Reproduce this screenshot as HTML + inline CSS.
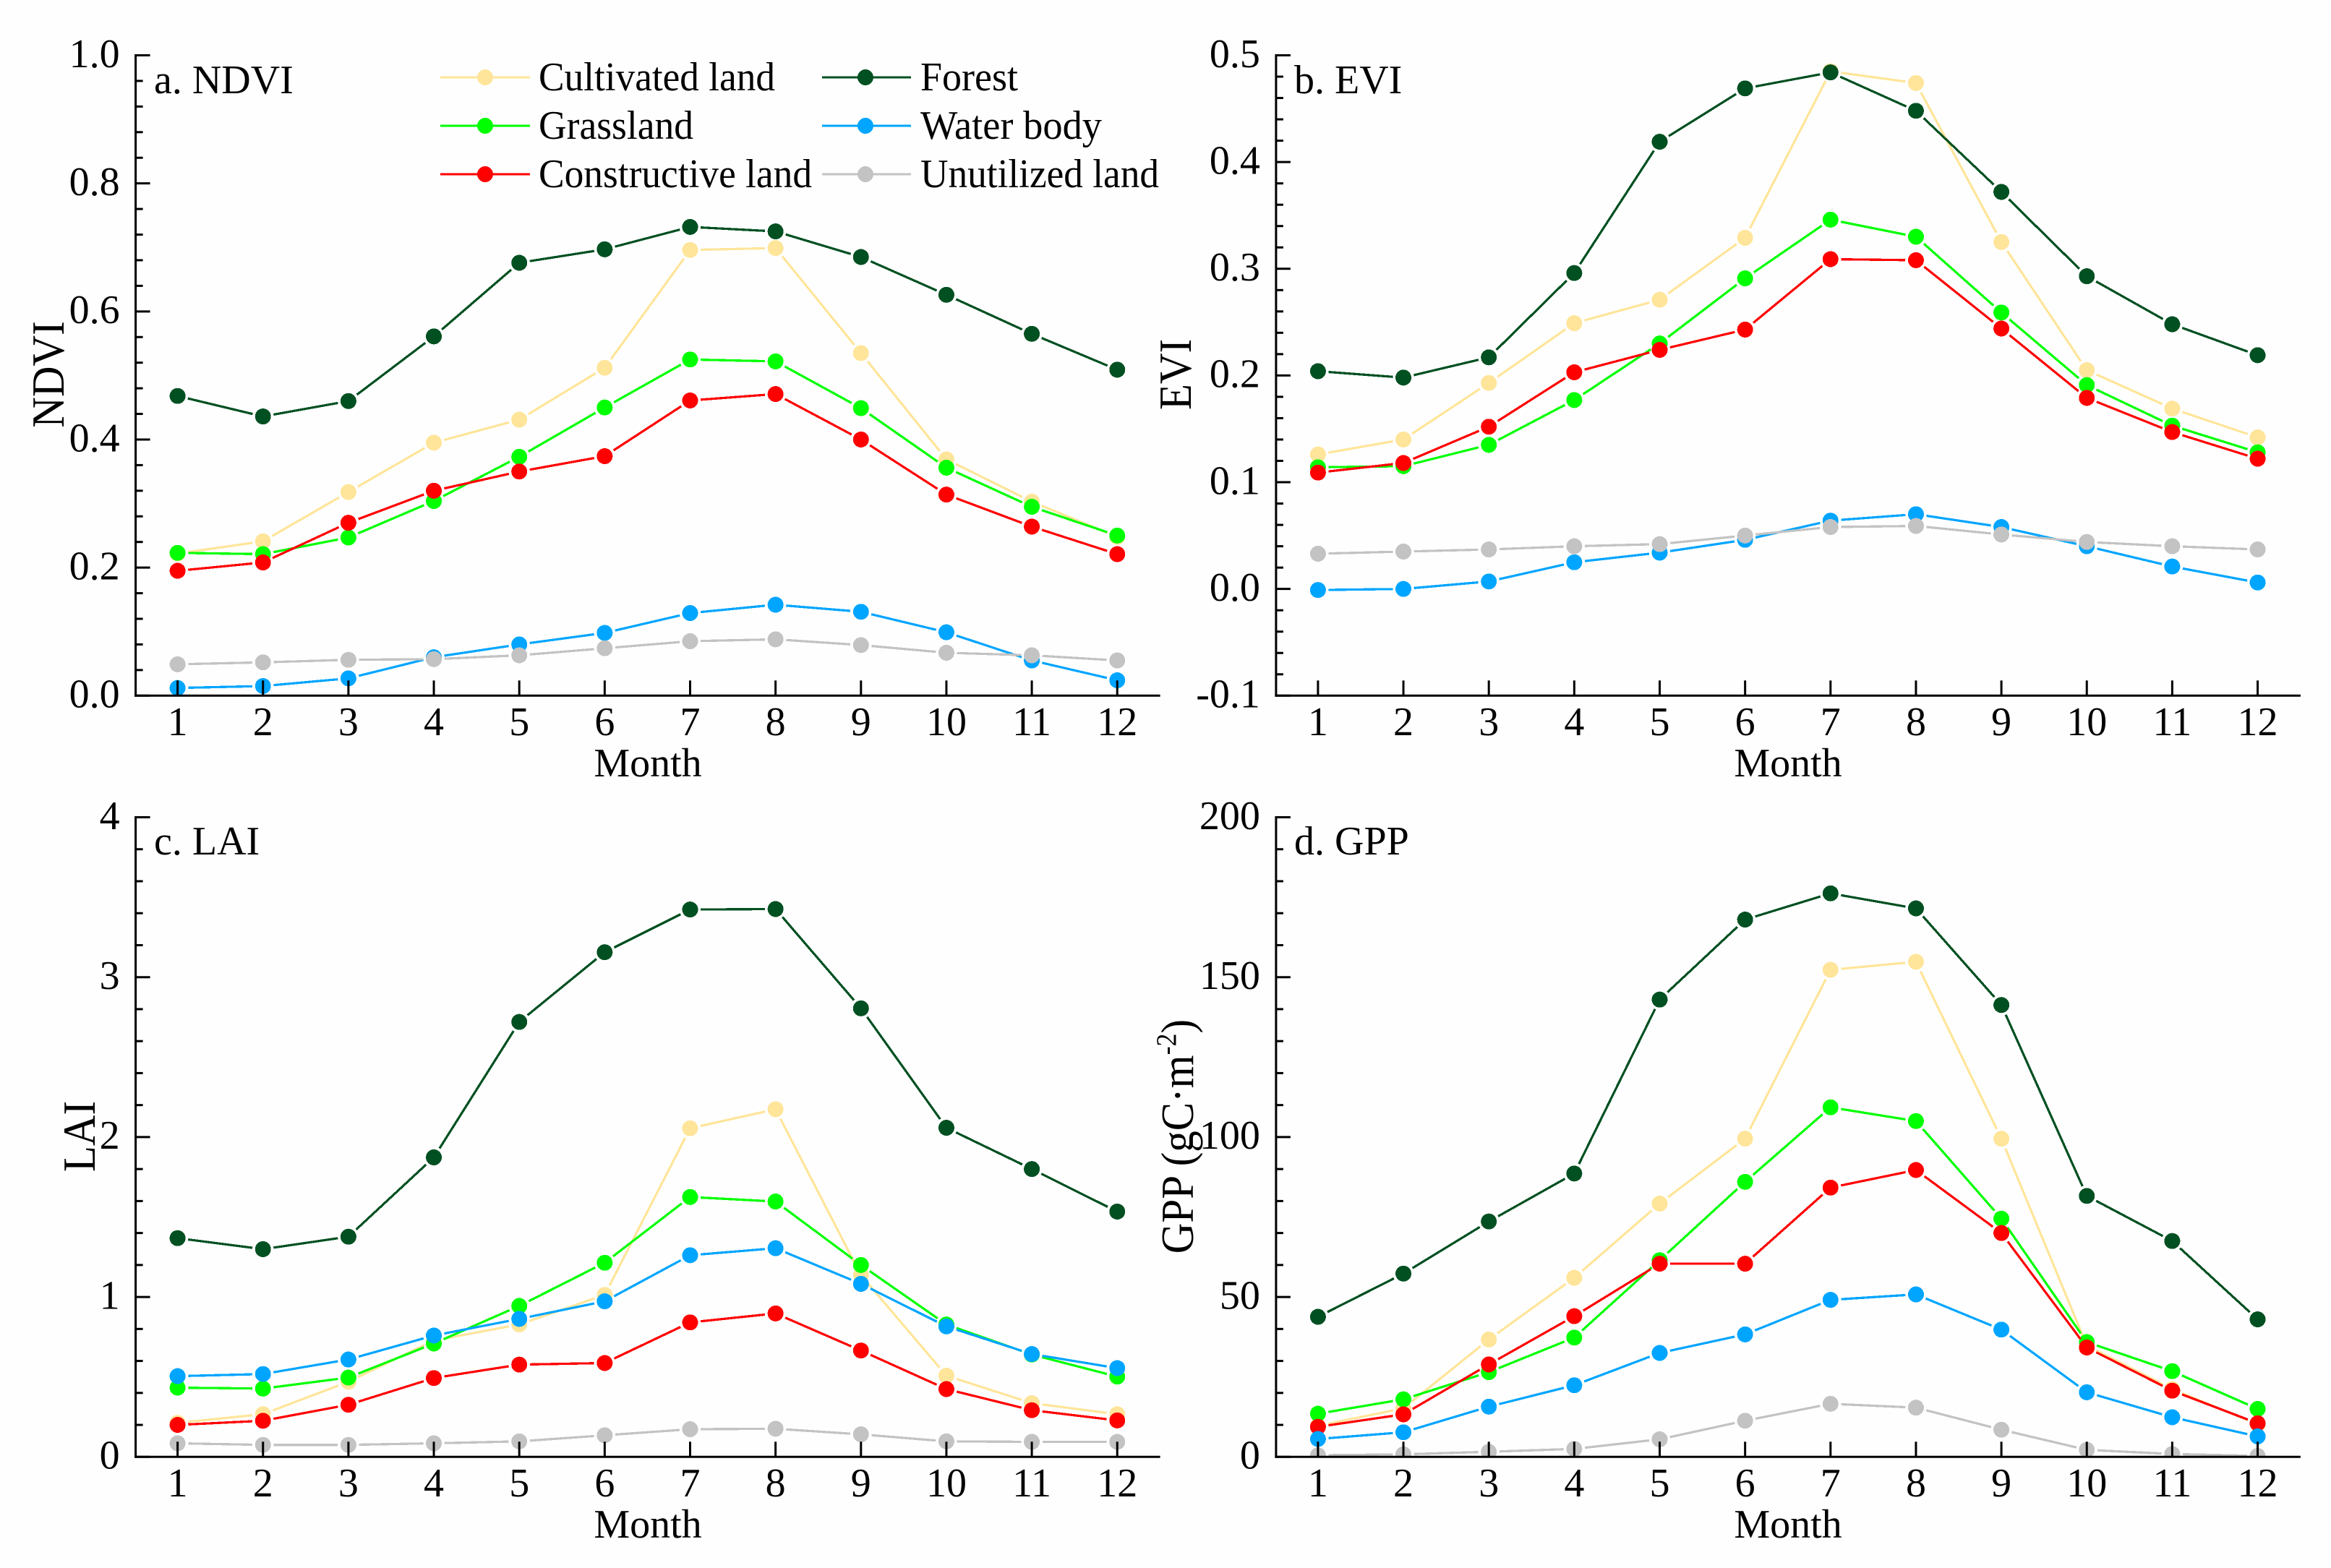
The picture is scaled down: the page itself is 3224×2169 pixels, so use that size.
<!DOCTYPE html>
<html lang="en">
<head>
<meta charset="utf-8">
<title>Monthly vegetation indices by land cover type</title>
<style>
html,body{margin:0;padding:0;background:#fff;}
svg{display:block;}
text{font-family:"Liberation Serif","Times New Roman",serif;font-size:56px;fill:#000;}
</style>
</head>
<body>
<svg id="chart" xmlns="http://www.w3.org/2000/svg" width="3224" height="2169" viewBox="0 0 3224 2169">
  <rect x="0" y="0" width="3224" height="2169" fill="#fefefe"/>
  <g id="panels"></g>

  <g>
    <text x="213" y="129">a. NDVI</text>
    <text x="1790" y="129">b. EVI</text>
    <text x="213" y="1182">c. LAI</text>
    <text x="1790" y="1182">d. GPP</text>
  </g>

  <g>
    <text x="896" y="1074" text-anchor="middle">Month</text>
    <text x="2473" y="1074" text-anchor="middle">Month</text>
    <text x="896" y="2127" text-anchor="middle">Month</text>
    <text x="2473" y="2127" text-anchor="middle">Month</text>
  </g>

  <g>
    <text text-anchor="middle" transform="translate(88 518) rotate(-90) scale(1 1.08)" style="font-size:59px">NDVI</text>
    <text text-anchor="middle" transform="translate(1647 518) rotate(-90) scale(1 1.08)" style="font-size:59px">EVI</text>
    <text text-anchor="middle" transform="translate(131 1572) rotate(-90) scale(1 1.08)" style="font-size:59px">LAI</text>
    <text text-anchor="middle" transform="translate(1650 1572) rotate(-90) scale(1 1.08)" style="font-size:59px">GPP (gC·m<tspan dy="-22" style="font-size:36px">-2</tspan><tspan dy="22">)</tspan></text>
  </g>

  <g>
    <g>
      <line x1="609" y1="107" x2="733" y2="107" stroke="#FFE59A" stroke-width="3" shape-rendering="crispEdges"/>
      <circle cx="671" cy="107" r="11" fill="#FFE59A" shape-rendering="crispEdges"/>
      <text x="745" y="125" textLength="327" lengthAdjust="spacingAndGlyphs">Cultivated land</text>
    </g>
    <g>
      <line x1="609" y1="174" x2="733" y2="174" stroke="#00FF00" stroke-width="3" shape-rendering="crispEdges"/>
      <circle cx="671" cy="174" r="11" fill="#00FF00" shape-rendering="crispEdges"/>
      <text x="745" y="192" textLength="214" lengthAdjust="spacingAndGlyphs">Grassland</text>
    </g>
    <g>
      <line x1="609" y1="241" x2="733" y2="241" stroke="#FF0000" stroke-width="3" shape-rendering="crispEdges"/>
      <circle cx="671" cy="241" r="11" fill="#FF0000" shape-rendering="crispEdges"/>
      <text x="745" y="259" textLength="378" lengthAdjust="spacingAndGlyphs">Constructive land</text>
    </g>
    <g>
      <line x1="1137" y1="107" x2="1260" y2="107" stroke="#005021" stroke-width="3" shape-rendering="crispEdges"/>
      <circle cx="1197" cy="107" r="11" fill="#005021" shape-rendering="crispEdges"/>
      <text x="1273" y="125" textLength="135" lengthAdjust="spacingAndGlyphs">Forest</text>
    </g>
    <g>
      <line x1="1137" y1="174" x2="1260" y2="174" stroke="#00A5FF" stroke-width="3" shape-rendering="crispEdges"/>
      <circle cx="1197" cy="174" r="11" fill="#00A5FF" shape-rendering="crispEdges"/>
      <text x="1273" y="192" textLength="251" lengthAdjust="spacingAndGlyphs">Water body</text>
    </g>
    <g>
      <line x1="1137" y1="241" x2="1260" y2="241" stroke="#C3C3C3" stroke-width="3" shape-rendering="crispEdges"/>
      <circle cx="1197" cy="241" r="11" fill="#C3C3C3" shape-rendering="crispEdges"/>
      <text x="1273" y="259" textLength="330" lengthAdjust="spacingAndGlyphs">Unutilized land</text>
    </g>
  </g>
</svg>

<script>
// ---- categories and tick labels ----
const months = [1, 2, 3, 4, 5, 6, 7, 8, 9, 10, 11, 12];
const ndviTickLabels = ['0.0', '0.2', '0.4', '0.6', '0.8', '1.0'];
const eviTickLabels = ['-0.1', '0.0', '0.1', '0.2', '0.3', '0.4', '0.5'];
const laiTickLabels = ['0', '1', '2', '3', '4'];
const gppTickLabels = ['0', '50', '100', '150', '200'];

// ---- NDVI values ----
const ndviCultivated = [0.222, 0.241, 0.318, 0.395, 0.431, 0.512, 0.696, 0.699, 0.535, 0.369, 0.303, 0.248];
const ndviGrassland = [0.223, 0.221, 0.247, 0.304, 0.373, 0.450, 0.525, 0.522, 0.449, 0.356, 0.295, 0.250];
const ndviConstructive = [0.195, 0.208, 0.270, 0.320, 0.350, 0.374, 0.461, 0.471, 0.400, 0.314, 0.264, 0.221];
const ndviForest = [0.468, 0.436, 0.460, 0.561, 0.676, 0.697, 0.732, 0.725, 0.685, 0.626, 0.565, 0.509];
const ndviWater = [0.012, 0.015, 0.027, 0.060, 0.080, 0.098, 0.129, 0.142, 0.131, 0.099, 0.055, 0.024];
const ndviUnutilized = [0.049, 0.052, 0.056, 0.057, 0.063, 0.074, 0.085, 0.088, 0.079, 0.067, 0.063, 0.055];

// ---- EVI values ----
const eviCultivated = [0.126, 0.140, 0.193, 0.249, 0.271, 0.329, 0.485, 0.474, 0.325, 0.205, 0.169, 0.142];
const eviGrassland = [0.114, 0.115, 0.135, 0.177, 0.230, 0.291, 0.346, 0.330, 0.259, 0.191, 0.153, 0.128];
const eviConstructive = [0.109, 0.118, 0.152, 0.203, 0.224, 0.243, 0.309, 0.308, 0.244, 0.179, 0.147, 0.122];
const eviForest = [0.204, 0.198, 0.217, 0.296, 0.419, 0.469, 0.484, 0.448, 0.372, 0.293, 0.248, 0.219];
const eviWater = [-0.001, 0.000, 0.007, 0.025, 0.034, 0.046, 0.064, 0.070, 0.058, 0.040, 0.021, 0.006];
const eviUnutilized = [0.033, 0.035, 0.037, 0.040, 0.042, 0.050, 0.058, 0.059, 0.051, 0.044, 0.040, 0.037];

// ---- LAI values ----
const laiCultivated = [0.213, 0.267, 0.470, 0.728, 0.828, 1.013, 2.055, 2.174, 1.136, 0.508, 0.336, 0.267];
const laiGrassland = [0.433, 0.427, 0.496, 0.709, 0.944, 1.214, 1.625, 1.597, 1.200, 0.828, 0.640, 0.502];
const laiConstructive = [0.200, 0.226, 0.326, 0.493, 0.577, 0.587, 0.841, 0.897, 0.665, 0.424, 0.292, 0.228];
const laiForest = [1.368, 1.299, 1.377, 1.873, 2.720, 3.156, 3.423, 3.426, 2.805, 2.058, 1.800, 1.534];
const laiWater = [0.505, 0.518, 0.609, 0.759, 0.863, 0.973, 1.261, 1.305, 1.082, 0.816, 0.643, 0.555];
const laiUnutilized = [0.085, 0.075, 0.075, 0.085, 0.097, 0.135, 0.173, 0.176, 0.141, 0.097, 0.094, 0.094];

// ---- GPP values ----
const gppCultivated = [9.7, 15.2, 36.7, 56.0, 79.2, 99.5, 152.3, 154.8, 99.5, 34.8, 21.2, 10.2];
const gppGrassland = [13.5, 18.0, 26.5, 37.3, 61.5, 86.0, 109.3, 105.0, 74.5, 35.9, 26.8, 15.0];
const gppConstructive = [9.4, 13.3, 28.9, 44.0, 60.4, 60.4, 84.2, 89.7, 70.0, 34.2, 20.7, 10.5];
const gppForest = [43.8, 57.3, 73.6, 88.6, 143.0, 168.0, 176.2, 171.5, 141.3, 81.6, 67.5, 43.0];
const gppWater = [5.6, 7.7, 15.7, 22.4, 32.5, 38.3, 49.1, 50.8, 39.8, 20.2, 12.4, 6.4];
const gppUnutilized = [0.5, 0.8, 1.6, 2.5, 5.5, 11.3, 16.6, 15.4, 8.5, 2.2, 0.9, 0.3];

const SVG_NS = 'http://www.w3.org/2000/svg';
const panelsRoot = document.getElementById('panels');

function make(tag, parent) {
  const el = document.createElementNS(SVG_NS, tag);
  parent.appendChild(el);
  return el;
}

function drawSeries(parent, panelKey, seriesKey, color, values, xScale, yScale) {
  const group = make('g', parent);
  
  
  const markerRadius = 11;
  const gap = 3.7;
  const trim = markerRadius + gap;
  let d = '';
  for (let i = 0; i + 1 < values.length; i++) {
    const x1 = xScale(months[i]);
    const y1 = yScale(values[i]);
    const x2 = xScale(months[i + 1]);
    const y2 = yScale(values[i + 1]);
    const len = Math.hypot(x2 - x1, y2 - y1);
    if (len <= trim * 2) continue;
    const ux = (x2 - x1) / len;
    const uy = (y2 - y1) / len;
    d += 'M' + (x1 + ux * trim).toFixed(2) + ' ' + (y1 + uy * trim).toFixed(2);
    d += 'L' + (x2 - ux * trim).toFixed(2) + ' ' + (y2 - uy * trim).toFixed(2);
  }
  const line = make('path', group);
  
  
  line.setAttribute('d', d);
  line.setAttribute('fill', 'none');
  line.setAttribute('stroke', color);
  line.setAttribute('stroke-width', '3.2');
  line.setAttribute('shape-rendering', 'crispEdges');
  values.forEach(function (value, i) {
    const point = make('circle', group);
    
    
    point.setAttribute('cx', xScale(months[i]).toFixed(2));
    point.setAttribute('cy', yScale(value).toFixed(2));
    point.setAttribute('r', markerRadius);
    point.setAttribute('fill', color);
    point.setAttribute('shape-rendering', 'crispEdges');
  });
}

function drawPanel(panelKey, left, top, base, tickLabels, seriesList) {
  const tickValues = tickLabels.map(Number);
  const yMin = tickValues[0];
  const yMax = tickValues[tickValues.length - 1];
  const firstMonthX = left + 58;
  const monthStep = 118.15;
  const right = left + 1417;
  const xScale = function (m) { return firstMonthX + (m - months[0]) * monthStep; };
  const yScale = function (v) { return base - (v - yMin) / (yMax - yMin) * (base - top); };

  const panel = make('g', panelsRoot);
  
  

  const clip = make('clipPath', panel);
  clip.setAttribute('id', panelKey + '-clip');
  const clipRect = make('rect', clip);
  clipRect.setAttribute('x', left - 40);
  clipRect.setAttribute('y', 0);
  clipRect.setAttribute('width', right - left + 80);
  clipRect.setAttribute('height', base);

  // x ticks sit under the marks
  const xAxis = make('g', panel);
  
  
  months.forEach(function (m) {
    const tick = make('line', xAxis);
    
    
    tick.setAttribute('x1', xScale(m));
    tick.setAttribute('x2', xScale(m));
    tick.setAttribute('y1', base);
    tick.setAttribute('y2', base - 21);
    tick.setAttribute('stroke', '#000');
    tick.setAttribute('stroke-width', '3');
    const label = make('text', xAxis);
    
    
    label.setAttribute('x', xScale(m));
    label.setAttribute('y', base + 54.7);
    label.setAttribute('text-anchor', 'middle');
    label.textContent = String(m);
  });

  const marks = make('g', panel);
  
  
  marks.setAttribute('clip-path', 'url(#' + panelKey + '-clip)');
  seriesList.forEach(function (s) {
    drawSeries(marks, panelKey, s[0], s[1], s[2], xScale, yScale);
  });

  const yAxis = make('g', panel);
  
  
  const spine = make('line', yAxis);
  
  
  spine.setAttribute('x1', left);
  spine.setAttribute('x2', left);
  spine.setAttribute('y1', top - 1.5);
  spine.setAttribute('y2', base + 1.5);
  spine.setAttribute('stroke', '#000');
  spine.setAttribute('stroke-width', '3');

  const baseLine = make('line', xAxis);
  
  
  baseLine.setAttribute('x1', left - 1.5);
  baseLine.setAttribute('x2', right);
  baseLine.setAttribute('y1', base);
  baseLine.setAttribute('y2', base);
  baseLine.setAttribute('stroke', '#000');
  baseLine.setAttribute('stroke-width', '3');
  panel.appendChild(xAxis);

  tickValues.forEach(function (v, i) {
    const y = yScale(v);
    const tick = make('line', yAxis);
    
    
    tick.setAttribute('x1', left);
    tick.setAttribute('x2', left + 20);
    tick.setAttribute('y1', y);
    tick.setAttribute('y2', y);
    tick.setAttribute('stroke', '#000');
    tick.setAttribute('stroke-width', '3');
    const label = make('text', yAxis);
    
    
    label.setAttribute('x', left - 22);
    label.setAttribute('y', y + 16.3);
    label.setAttribute('text-anchor', 'end');
    label.textContent = tickLabels[i];
    if (i + 1 < tickValues.length) {
      for (let k = 1; k < 5; k++) {
        const my = yScale(v + (tickValues[i + 1] - v) * k / 5);
        const minor = make('line', yAxis);
        
        
        minor.setAttribute('x1', left);
        minor.setAttribute('x2', left + 10);
        minor.setAttribute('y1', my);
        minor.setAttribute('y2', my);
        minor.setAttribute('stroke', '#000');
        minor.setAttribute('stroke-width', '3');
      }
    }
  });
}

const colorCultivated = '#FFE59A';
const colorGrassland = '#00FF00';
const colorConstructive = '#FF0000';
const colorForest = '#005021';
const colorWater = '#00A5FF';
const colorUnutilized = '#C3C3C3';

drawPanel('ndvi', 187.6, 76.5, 962.3, ndviTickLabels, [
  ['cultivated-land', colorCultivated, ndviCultivated],
  ['grassland', colorGrassland, ndviGrassland],
  ['constructive-land', colorConstructive, ndviConstructive],
  ['forest', colorForest, ndviForest],
  ['water-body', colorWater, ndviWater],
  ['unutilized-land', colorUnutilized, ndviUnutilized]
]);
drawPanel('evi', 1764.9, 76.5, 962.3, eviTickLabels, [
  ['cultivated-land', colorCultivated, eviCultivated],
  ['grassland', colorGrassland, eviGrassland],
  ['constructive-land', colorConstructive, eviConstructive],
  ['forest', colorForest, eviForest],
  ['water-body', colorWater, eviWater],
  ['unutilized-land', colorUnutilized, eviUnutilized]
]);
drawPanel('lai', 187.6, 1130.5, 2015.3, laiTickLabels, [
  ['cultivated-land', colorCultivated, laiCultivated],
  ['grassland', colorGrassland, laiGrassland],
  ['constructive-land', colorConstructive, laiConstructive],
  ['forest', colorForest, laiForest],
  ['water-body', colorWater, laiWater],
  ['unutilized-land', colorUnutilized, laiUnutilized]
]);
drawPanel('gpp', 1764.9, 1130.5, 2015.3, gppTickLabels, [
  ['cultivated-land', colorCultivated, gppCultivated],
  ['grassland', colorGrassland, gppGrassland],
  ['constructive-land', colorConstructive, gppConstructive],
  ['forest', colorForest, gppForest],
  ['water-body', colorWater, gppWater],
  ['unutilized-land', colorUnutilized, gppUnutilized]
]);
</script>
</body>
</html>
